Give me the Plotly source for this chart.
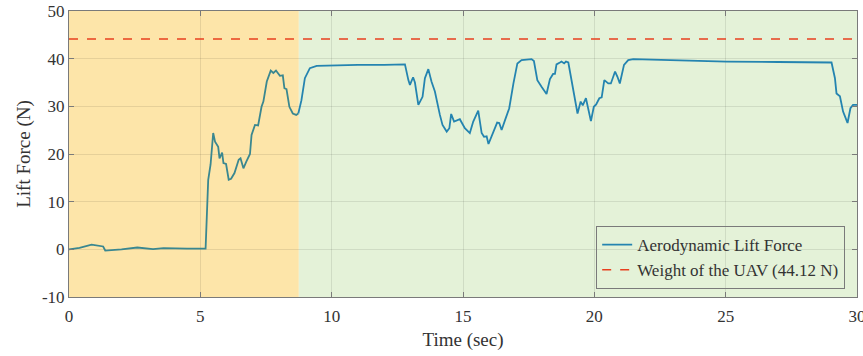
import plotly.graph_objects as go

time_s = [0, 0.4, 0.86, 1.1, 1.3, 1.38, 1.6, 2.0, 2.6, 3.0, 3.2, 3.6, 4.0, 4.5, 5.2, 5.3, 5.39, 5.49,
          5.56, 5.68, 5.73, 5.83, 5.88, 5.98, 6.08, 6.17, 6.3, 6.46, 6.53, 6.64, 6.75, 6.89, 6.95, 7.08,
          7.2, 7.33, 7.4, 7.53, 7.68, 7.78, 7.88, 8.03, 8.14, 8.2, 8.28, 8.39, 8.52, 8.65, 8.73, 8.85,
          8.98, 9.17, 9.43, 10.0, 11.0, 12.0, 12.79, 12.92, 12.98, 13.1, 13.17, 13.3, 13.46, 13.55,
          13.68, 13.8, 13.93, 14.12, 14.22, 14.38, 14.48, 14.55, 14.66, 14.88, 15.07, 15.26, 15.39,
          15.58, 15.71, 15.8, 15.9, 15.97, 16.15, 16.3, 16.38, 16.47, 16.6, 16.76, 16.92, 17.07, 17.23,
          17.61, 17.7, 17.83, 17.99, 18.18, 18.31, 18.43, 18.5, 18.56, 18.69, 18.75, 18.85, 18.92,
          19.01, 19.14, 19.26, 19.36, 19.48, 19.56, 19.68, 19.77, 19.87, 19.98, 20.07, 20.19, 20.28,
          20.38, 20.53, 20.63, 20.79, 20.88, 20.97, 21.13, 21.29, 21.48, 23.0, 25.03, 27.0, 29.03,
          29.16, 29.22, 29.35, 29.47, 29.55, 29.64, 29.75, 29.85, 29.96, 30.0]

lift_n = [0, 0.3, 1.0, 0.7, 0.6, -0.25, -0.2, 0.0, 0.38, 0.2, 0.05, 0.25, 0.15, 0.15, 0.15, 14.6,
          17.8, 24.4, 22.6, 21.5, 19.1, 20.3, 18.1, 17.9, 14.6, 14.8, 16.0, 18.8, 19.1, 17.0, 18.4,
          20.0, 24.0, 26.1, 26.0, 29.9, 31.0, 35.2, 37.5, 37.0, 37.5, 36.4, 36.5, 33.8, 33.6, 29.9,
          28.5, 28.2, 28.5, 31.3, 35.9, 38.0, 38.5, 38.6, 38.7, 38.7, 38.8, 35.5, 34.5, 36.1, 35.0,
          30.3, 32.0, 35.9, 37.8, 35.2, 33.1, 28.2, 26.1, 24.7, 25.4, 28.4, 26.8, 27.3, 25.4, 24.4,
          26.8, 29.1, 24.4, 23.6, 23.7, 22.1, 24.7, 26.6, 26.5, 25.05, 27.1, 29.6, 34.8, 39.0, 39.7,
          39.9, 39.5, 35.5, 34.1, 32.6, 35.7, 36.8, 36.8, 38.8, 39.2, 39.4, 39.0, 39.4, 39.2, 35.2,
          31.3, 28.5, 31.0, 30.2, 31.7, 29.4, 26.9, 29.9, 30.4, 31.7, 31.9, 35.5, 34.8, 34.8, 37.3,
          36.2, 34.8, 38.7, 39.7, 39.9, 39.7, 39.4, 39.3, 39.2, 35.9, 32.7, 32.1, 28.9, 27.8, 26.5,
          29.6, 30.3, 30.3, 30.3]

assert len(time_s) == len(lift_n), (len(time_s), len(lift_n))

uav_weight = 44.12
phase_boundary = 8.75
x_range = [0, 30]
y_range = [-10, 50]
x_ticks = [0, 5, 10, 15, 20, 25, 30]
y_ticks = [-10, 0, 10, 20, 30, 40, 50]

FONT = "Liberation Serif"

fig = go.Figure()

t1 = [t for t in time_s if t <= phase_boundary]
l1 = lift_n[:len(t1)]
t2 = time_s[len(t1) - 1:]
l2 = lift_n[len(t1) - 1:]

fig.add_trace(go.Scatter(x=t1, y=l1, mode="lines", line=dict(color="#3a8790", width=1.8),
                         showlegend=False, hoverinfo="skip"))
fig.add_trace(go.Scatter(x=t2, y=l2, mode="lines", line=dict(color="#2484b0", width=1.8),
                         name="Aerodynamic Lift Force"))
fig.add_trace(go.Scatter(x=x_range, y=[uav_weight, uav_weight], mode="lines",
                         line=dict(color="#e8401f", width=1.5, dash="dash"),
                         name="Weight of the UAV (44.12 N)"))

fig.add_shape(type="rect", x0=x_range[0], x1=phase_boundary, y0=y_range[0], y1=y_range[1],
              xref="x", yref="y", fillcolor="#fde5a9", line_width=0, layer="below")
fig.add_shape(type="rect", x0=phase_boundary, x1=x_range[1], y0=y_range[0], y1=y_range[1],
              xref="x", yref="y", fillcolor="#e4f2d8", line_width=0, layer="below")

axis_common = dict(
    showline=True, linecolor="#7a7a7a", linewidth=1, mirror="allticks",
    ticks="inside", ticklen=5, tickcolor="#7a7a7a",
    showgrid=True, gridcolor="rgba(0,0,0,0.09)", gridwidth=1,
    zeroline=False, automargin=False, ticklabeloverflow="allow",
    tickfont=dict(family=FONT, size=17, color="#333333"),
)

fig.update_xaxes(range=x_range, tickvals=x_ticks, ticktext=[str(v) for v in x_ticks],
                 ticklabelstandoff=4,
                 title=dict(text="Time (sec)", font=dict(family=FONT, size=19, color="#333333"),
                            standoff=7),
                 **axis_common)
fig.update_yaxes(range=y_range, tickvals=y_ticks, ticktext=[str(v) for v in y_ticks],
                 title=dict(text="Lift Force (N)", font=dict(family=FONT, size=19, color="#333333"),
                            standoff=6),
                 **axis_common)

fig.update_layout(
    width=863, height=356,
    margin=dict(l=69, r=6, t=11, b=59),
    paper_bgcolor="white", plot_bgcolor="white",
    font=dict(family=FONT, color="#333333"),
    legend=dict(x=0.985, xanchor="right", y=0.138, yanchor="middle",
                bgcolor="rgba(0,0,0,0)", bordercolor="#7a7a7a", borderwidth=1,
                font=dict(family=FONT, size=17, color="#333333"),
                tracegroupgap=0, itemwidth=30),
)

fig.write_html("out.html", config={"displayModeBar": False},
               post_script="document.body.style.margin='0px';document.body.style.overflow='hidden';")
